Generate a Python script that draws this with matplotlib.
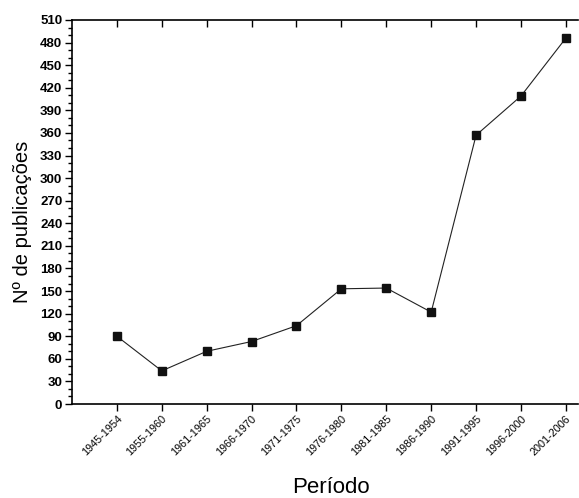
import numpy as np
import matplotlib
matplotlib.use('Agg')
import matplotlib.pyplot as plt
from matplotlib.ticker import MultipleLocator

periods = ["1945-1954", "1955-1960", "1961-1965", "1966-1970", "1971-1975",
           "1976-1980", "1981-1985", "1986-1990", "1991-1995", "1996-2000",
           "2001-2006"]
publications = [90, 44, 70, 83, 104, 153, 154, 122, 357, 409, 486]

plt.rcParams['font.family'] = ['Liberation Sans', 'DejaVu Sans']

fig = plt.figure(figsize=(5.79, 4.98), dpi=100)
ax = fig.add_axes([72 / 579, 1 - 404 / 498, 506 / 579, 384 / 498])

x = np.arange(len(periods))
ax.plot(x, publications, color='#222222', lw=0.8, marker='s', ms=5.5,
        mfc='#111111', mec='#111111')

ax.set_xlim(-1, 10.27)
ax.set_ylim(0, 510)
ax.yaxis.set_major_locator(MultipleLocator(30))
ax.yaxis.set_minor_locator(MultipleLocator(10))
ax.set_xticks(x)
ax.set_xticklabels(periods, rotation=45, ha='right', va='top',
                   rotation_mode='anchor', fontsize=7.8)
for lbl in ax.get_yticklabels():
    lbl.set_fontweight('bold')
ax.tick_params(axis='y', which='major', direction='out', length=5, width=1,
               labelsize=9.5, pad=2)
ax.tick_params(axis='y', which='minor', direction='out', length=3, width=1)
ax.tick_params(axis='x', which='major', direction='out', length=5, width=1,
               top=True, pad=2)

# top ticks point inward
for t in ax.xaxis.get_major_ticks():
    t.tick2line.set_marker(matplotlib.lines.TICKDOWN)

ax.spines['right'].set_visible(False)
for s in ('left', 'bottom', 'top'):
    ax.spines[s].set_linewidth(1.2)

ax.set_ylabel("Nº de publicações", fontsize=14.5)
ax.set_xlabel("Período", fontsize=16)
ax.yaxis.set_label_coords(-0.079, 0.474)
ax.xaxis.set_label_coords(0.512, -0.19)

fig.savefig("out.png", dpi=100)
